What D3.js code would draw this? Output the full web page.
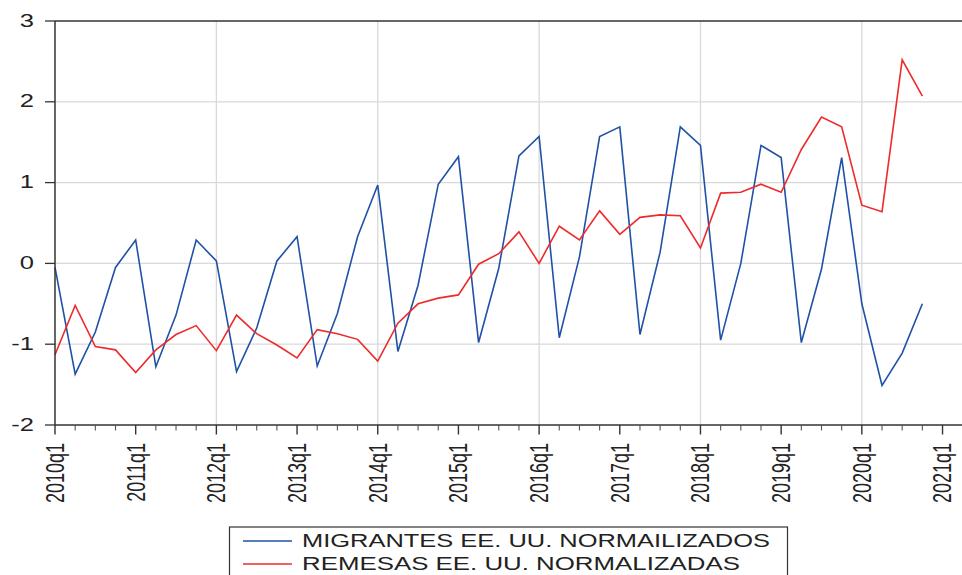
<!DOCTYPE html>
<html>
<head>
<meta charset="utf-8">
<script src="https://cdn.jsdelivr.net/npm/d3@7"></script>
<style>
  html, body { margin: 0; padding: 0; background: #fff; }
  svg { display: block; font-family: "Liberation Sans", Arial, sans-serif; }
</style>
</head>
<body>
<svg id="chart" width="962" height="575"></svg>
<script>
// ---- Data ----
const quarters = [
  "2010q1","2010q2","2010q3","2010q4","2011q1","2011q2","2011q3","2011q4",
  "2012q1","2012q2","2012q3","2012q4","2013q1","2013q2","2013q3","2013q4",
  "2014q1","2014q2","2014q3","2014q4","2015q1","2015q2","2015q3","2015q4",
  "2016q1","2016q2","2016q3","2016q4","2017q1","2017q2","2017q3","2017q4",
  "2018q1","2018q2","2018q3","2018q4","2019q1","2019q2","2019q3","2019q4",
  "2020q1","2020q2","2020q3","2020q4"
];
const migrantes = [
  -0.05, -1.37, -0.85, -0.05, 0.29, -1.28, -0.64, 0.29,
  0.03, -1.34, -0.80, 0.03, 0.33, -1.27, -0.62, 0.33,
  0.97, -1.09, -0.27, 0.98, 1.32, -0.98, -0.06, 1.33,
  1.57, -0.92, 0.08, 1.57, 1.69, -0.88, 0.14, 1.69,
  1.46, -0.95, 0.00, 1.46, 1.31, -0.98, -0.07, 1.31,
  -0.50, -1.51, -1.11, -0.50
];
const remesas = [
  -1.13, -0.52, -1.03, -1.07, -1.35, -1.07, -0.88, -0.77,
  -1.08, -0.64, -0.87, -1.01, -1.17, -0.82, -0.87, -0.94,
  -1.21, -0.74, -0.50, -0.43, -0.39, -0.01, 0.12, 0.39,
  0.00, 0.46, 0.29, 0.65, 0.36, 0.57, 0.60, 0.59,
  0.19, 0.87, 0.88, 0.98, 0.88, 1.41, 1.81, 1.69,
  0.72, 0.64, 2.52, 2.07
];
const xTickLabels = ["2010q1","2011q1","2012q1","2013q1","2014q1","2015q1","2016q1",
                     "2017q1","2018q1","2019q1","2020q1","2021q1"];
const yTicks = [-2, -1, 0, 1, 2, 3];
const seriesNames = ["MIGRANTES EE. UU. NORMAILIZADOS", "REMESAS EE. UU. NORMALIZADAS"];
const seriesColors = ["#1f52a6", "#ee2b2b"];

// ---- Layout ----
const svg = d3.select("#chart");
const pLeft = 55, pRight = 962.7, pTop = 21, pBottom = 425;
const stretch = 1.38;   // horizontal text stretch of the reference
const axisColor = "#333";
const textColor = "#222";

const x = d3.scaleLinear().domain([0, 45]).range([pLeft, pRight]);
const y = d3.scaleLinear().domain([-2, 3]).range([pBottom, pTop]);

// Gridlines
const g = svg.append("g");
g.selectAll("line.hgrid").data(yTicks.filter(v => v > -2 && v < 3)).join("line")
  .attr("x1", pLeft).attr("x2", 962)
  .attr("y1", d => y(d)).attr("y2", d => y(d))
  .attr("stroke", "#d9d9d9").attr("stroke-width", 1.3);
const vgridIdx = xTickLabels.map((d, i) => i * 4).filter((d, i) => i % 2 === 0 && i > 0);
g.selectAll("line.vgrid").data(vgridIdx).join("line")
  .attr("x1", d => x(d)).attr("x2", d => x(d))
  .attr("y1", pTop).attr("y2", pBottom)
  .attr("stroke", "#d9d9d9").attr("stroke-width", 1.3);

// Series lines
const line = d3.line().x((d, i) => x(i)).y(d => y(d));
[migrantes, remesas].forEach((s, k) => {
  svg.append("path").datum(s)
    .attr("d", line)
    .attr("fill", "none")
    .attr("stroke", seriesColors[k])
    .attr("stroke-width", 1.6)
    .attr("stroke-linejoin", "miter");
});

// Frame: left axis, top, bottom
svg.append("line").attr("x1", pLeft).attr("x2", 962).attr("y1", pTop).attr("y2", pTop)
  .attr("stroke", axisColor).attr("stroke-width", 1.5);
svg.append("line").attr("x1", pLeft).attr("x2", pLeft).attr("y1", pTop).attr("y2", pBottom)
  .attr("stroke", axisColor).attr("stroke-width", 1.5);
svg.append("line").attr("x1", pLeft).attr("x2", 962).attr("y1", pBottom).attr("y2", pBottom)
  .attr("stroke", axisColor).attr("stroke-width", 1.5);

// Y ticks and labels
yTicks.forEach(v => {
  svg.append("line").attr("x1", pLeft - 10).attr("x2", pLeft)
    .attr("y1", y(v)).attr("y2", y(v))
    .attr("stroke", axisColor).attr("stroke-width", 1.3);
  svg.append("text")
    .attr("transform", `translate(34,${y(v)}) scale(${stretch},1)`)
    .attr("text-anchor", "end").attr("dy", "0.3em")
    .attr("font-size", 18.5).attr("fill", textColor)
    .text(v);
});

// X ticks: minor at each quarter, major at each year
d3.range(0, 46).forEach(i => {
  const major = i % 4 === 0;
  svg.append("line").attr("x1", x(i)).attr("x2", x(i))
    .attr("y1", pBottom).attr("y2", pBottom + (major ? 9.5 : 5.5))
    .attr("stroke", major ? axisColor : "#555").attr("stroke-width", major ? 1.4 : 1.1);
});
xTickLabels.forEach((lab, k) => {
  svg.append("text")
    .attr("transform", `translate(${x(k * 4)},443) scale(${stretch},1) rotate(-90)`)
    .attr("text-anchor", "end").attr("dy", "0.36em")
    .attr("font-size", 18).attr("fill", textColor)
    .text(lab);
});

// Legend
const lg = svg.append("g");
lg.append("rect").attr("x", 229.5).attr("y", 527).attr("width", 558).attr("height", 70)
  .attr("fill", "#fff").attr("stroke", axisColor).attr("stroke-width", 1.2);
const legY = [541, 564];
const textLens = [468, 438];
seriesNames.forEach((name, k) => {
  lg.append("line").attr("x1", 243).attr("x2", 292).attr("y1", legY[k]).attr("y2", legY[k])
    .attr("stroke", seriesColors[k]).attr("stroke-width", 1.6);
  lg.append("text").attr("x", 302).attr("y", legY[k] + 6.2)
    .attr("font-size", 18.5).attr("fill", textColor)
    .attr("textLength", textLens[k]).attr("lengthAdjust", "spacingAndGlyphs")
    .text(name);
});
</script>
</body>
</html>
